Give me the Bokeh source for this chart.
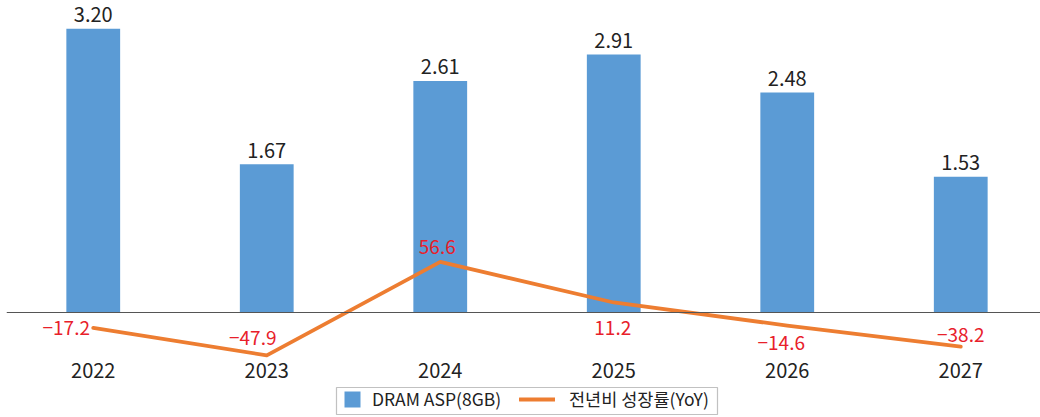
from bokeh.plotting import figure
from bokeh.models import Range1d, Span, Legend, LegendItem, BoxAnnotation, ColumnDataSource
from bokeh.core.properties import value
from bokeh.embed import file_html
from bokeh.resources import INLINE

# ---- data ----
years = ["2022", "2023", "2024", "2025", "2026", "2027"]
asp = [3.20, 1.67, 2.61, 2.91, 2.48, 1.53]          # DRAM ASP(8GB)
yoy = [-17.2, -47.9, 56.6, 11.2, -14.6, -38.2]      # 전년비 성장률(YoY), %

# ---- label placement (style, screen px; positive dy = down) ----
yoy_dx = [-27, -14, -3, -1, -6, 0]
yoy_dy = [0, -17, -15, 26, 17, -12]

FONT = "Noto Sans CJK KR"
BLUE = "#5B9BD5"
ORANGE = "#ED7D31"
RED = "#E8202A"

xs = list(range(len(years)))
src = ColumnDataSource(dict(
    x=xs, year=years, asp=asp, yoy=yoy,
    asp_lbl=[f"{v:.2f}" for v in asp],
    yoy_lbl=[f"{v:.1f}".replace("-", "\u2212") for v in yoy],
    dx=yoy_dx, dy=yoy_dy,
))

W, H = 1040, 417
px_per_cat = 173.5
zero_px = 312.0           # zero line from top
bar_px = 88.7             # px per ASP unit
yoy_px = 0.895            # px per % point

p = figure(width=W, height=H, output_backend="svg", toolbar_location=None,
           x_axis_location=None, y_axis_location=None,
           min_border_left=6, min_border_right=0, min_border_top=0, min_border_bottom=0,
           outline_line_color=None, background_fill_color="white", border_fill_color="white")
frame_w = W - 6
p.x_range = Range1d(-0.5, -0.5 + frame_w / px_per_cat)
p.y_range = Range1d(-(H - zero_px) / bar_px, zero_px / bar_px)
p.extra_y_ranges = {"yoy": Range1d(-(H - zero_px) / yoy_px, zero_px / yoy_px)}
p.xgrid.visible = False
p.ygrid.visible = False

bars = p.vbar(x="x", top="asp", bottom=0, width=0.31, source=src,
              fill_color=BLUE, line_color=None)

p.add_layout(Span(location=0, dimension="width", line_color="#555555", line_width=1.2))

line = p.line(x="x", y="yoy", source=src, y_range_name="yoy",
              line_color=ORANGE, line_width=3.8, line_join="round", line_cap="round")

p.text(x="x", y="asp", text="asp_lbl", source=src, text_align="center",
       text_baseline="middle", y_offset=-14, text_font=value(FONT),
       text_font_size="20px", text_color="#222222")

p.text(x="x", y="yoy", text="yoy_lbl", source=src, y_range_name="yoy",
       x_offset="dx", y_offset="dy", text_align="center", text_baseline="middle",
       text_font=value(FONT), text_font_size="19px", text_color=RED)

p.text(x="x", y=0, text="year", source=src, text_align="center",
       text_baseline="middle", y_offset=58, text_font=value(FONT),
       text_font_size="20px", text_color="#222222")

# legend box
p.add_layout(BoxAnnotation(left=336, right=717, top=387, bottom=414,
                           left_units="canvas", right_units="canvas",
                           top_units="canvas", bottom_units="canvas",
                           fill_alpha=0, line_color="#333333", line_width=1.2))

common = dict(orientation="horizontal", padding=3, margin=0,
              border_line_alpha=0, background_fill_alpha=0,
              label_text_font=FONT, label_text_font_size="17.5px",
              label_text_color="#222222", glyph_height=20, label_height=20)
legA = Legend(items=[LegendItem(label="DRAM ASP(8GB)", renderers=[bars])],
              location=(333, 3), glyph_width=20, label_standoff=10, **common)
legB = Legend(items=[LegendItem(label="전년비 성장률(YoY)", renderers=[line])],
              location=(510, 3), glyph_width=36, label_standoff=14, **common)
p.add_layout(legA)
p.add_layout(legB)

open("out.html", "w").write(file_html(p, INLINE))
